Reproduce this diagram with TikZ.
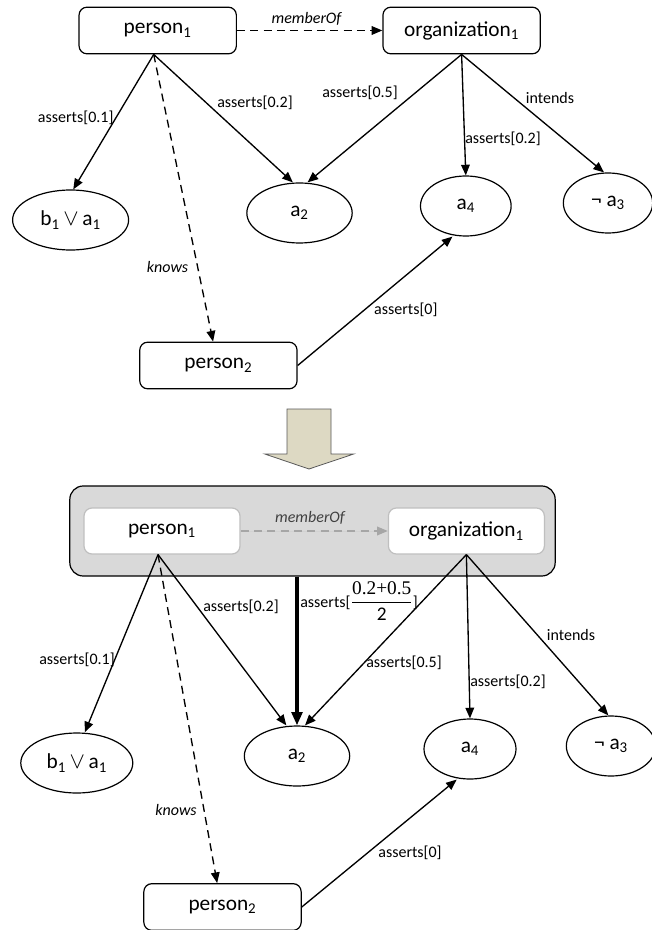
\documentclass[tikz,border=0pt]{standalone}
\usepackage{fontspec}
\usepackage{amsmath}
\setmainfont{Carlito}
\newfontfamily\tmsfont{Liberation Serif}
\usetikzlibrary{arrows.meta,shapes.geometric}
\definecolor{grpfill}{HTML}{D9D9D9}
\definecolor{innerline}{HTML}{BFBFBF}
\definecolor{ghost}{HTML}{A6A6A6}
\definecolor{ghosttext}{HTML}{404040}
\definecolor{bigfill}{HTML}{DDD9C3}
\definecolor{bigline}{HTML}{595959}
\tikzset{
  nodefont/.style={font=\fontsize{16}{19}\selectfont},
  box/.style={draw, rounded corners=6pt, minimum width=118pt, minimum height=35pt, inner sep=0pt, line width=0.9pt, nodefont},
  inbox/.style={box, draw=innerline, fill=white, minimum width=117pt, minimum height=34.5pt},
  prop/.style={draw, ellipse, minimum height=45pt, inner sep=0pt, line width=0.9pt, nodefont},
  lab/.style={font=\fontsize{12}{14}\selectfont, inner sep=0pt},
  ilab/.style={lab, font=\fontsize{12}{14}\selectfont\itshape},
  arr/.style={-{Triangle[length=8pt,width=6.5pt]}, line width=1pt},
  darr/.style={arr, dash pattern=on 6pt off 4pt},
  thickarr/.style={-{Triangle[length=10pt,width=8pt]}, line width=3pt}
}
\begin{document}
\begin{tikzpicture}[x=0.75pt,y=-0.75pt]
\useasboundingbox (0,0) rectangle (651,930);

% ---------- top graph ----------
\node[box] (p1) at (157.7,30.5) {person\textsubscript{1}};
\node[box] (o1) at (461.6,30.5) {organization\textsubscript{1}};
\node[prop, minimum width=87pt] (b1) at (70.6,220) {b\textsubscript{1}\,$\vee$\,a\textsubscript{1}};
\node[prop, minimum width=79pt] (a2) at (299.5,213) {a\textsubscript{2}};
\node[prop, minimum width=68pt] (a4) at (465.8,206) {a\textsubscript{4}};
\node[prop, minimum width=67pt] (a3) at (608,203) {¬ a\textsubscript{3}};
\node[box] (p2) at (218.4,365.5) {person\textsubscript{2}};

\coordinate (p1o) at ([xshift=-3pt]p1.south);

\draw[darr] (p1.east) -- (o1.west);
\draw[arr] (p1o) -- ([xshift=2pt]b1.north);
\draw[arr] (p1o) -- ([xshift=-5pt]a2.north);
\draw[arr] (o1.south) -- ([xshift=6pt]a2.north);
\draw[arr] (o1.south) -- (a4.north);
\draw[arr] (o1.south) -- ([xshift=-3pt]a3.north);
\draw[darr] (p1o) -- ([xshift=-4pt]p2.north);
\draw[arr] (p2.east) -- ([xshift=-10pt]a4.south);

\node[ilab] (lmem) at (306.5,19) {memberOf};
\node[lab] (l01) at (75.7,118) {asserts[0.1]};
\node[lab] (l02a) at (255,103) {asserts[0.2]};
\node[lab] (l05) at (360,93) {asserts[0.5]};
\node[lab] (l02b) at (503,139) {asserts[0.2]};
\node[lab] (lint) at (550,98) {intends};
\node[ilab] (lkn) at (167.5,267) {knows};
\node[lab] (l0) at (405.8,310) {asserts[0]};

% ---------- transformation arrow ----------
\draw[fill=bigfill, draw=bigline, line width=0.6pt]
  (287,409) -- (331,409) -- (331,454) -- (353.7,454) -- (309,469) -- (264.8,454) -- (287,454) -- cycle;

% ---------- bottom graph ----------
\node[draw, fill=grpfill, rounded corners=10pt, line width=0.9pt, minimum width=364pt, minimum height=67.5pt, inner sep=0pt] (grp) at (312.5,531) {};
\node[inbox] (q1) at (162,531) {person\textsubscript{1}};
\node[inbox] (r1) at (466.4,531) {organization\textsubscript{1}};
\node[prop, minimum width=84pt] (c1) at (76.8,763) {b\textsubscript{1}\,$\vee$\,a\textsubscript{1}};
\node[prop, minimum width=79pt] (c2) at (297,756) {a\textsubscript{2}};
\node[prop, minimum width=69pt] (c4) at (470,749) {a\textsubscript{4}};
\node[prop, minimum width=67pt] (c3) at (611,746) {¬ a\textsubscript{3}};
\node[box] (q2) at (222.5,907) {person\textsubscript{2}};

\coordinate (q1o) at ([xshift=-3pt]q1.south);

\draw[darr, draw=ghost, fill=ghost] (q1.east) -- (r1.west);
\draw[arr] (q1o) -- ([xshift=6pt]c1.north);
\draw[arr] (q1o) -- ([xshift=-8pt]c2.north);
\draw[thickarr] (c2.north |- grp.south) -- (c2.north);
\draw[arr] (r1.south) -- ([xshift=6pt]c2.north);
\draw[arr] (r1.south) -- (c4.north);
\draw[arr] (r1.south) -- ([xshift=-2pt]c3.north);
\draw[darr] (q1o) -- ([xshift=-4pt]q2.north);
\draw[arr] (q2.east) -- ([xshift=-10pt]c4.south);

\node[ilab, text=ghosttext] (mmem) at (310,518) {memberOf};
\node[lab, anchor=west] (mfrac) at (300,601) {asserts[{\fontsize{14.5}{17}\selectfont$\dfrac{\text{\tmsfont 0.2+0.5}}{\text{2}}$}]};
\node[lab] (m02a) at (241,607) {asserts[0.2]};
\node[lab] (m01) at (77,660) {asserts[0.1]};
\node[lab] (m05) at (404,663) {asserts[0.5]};
\node[lab] (m02b) at (508,682) {asserts[0.2]};
\node[lab] (mint) at (571,635) {intends};
\node[ilab] (mkn) at (176,810) {knows};
\node[lab] (m0) at (410,853) {asserts[0]};
\end{tikzpicture}
\end{document}
